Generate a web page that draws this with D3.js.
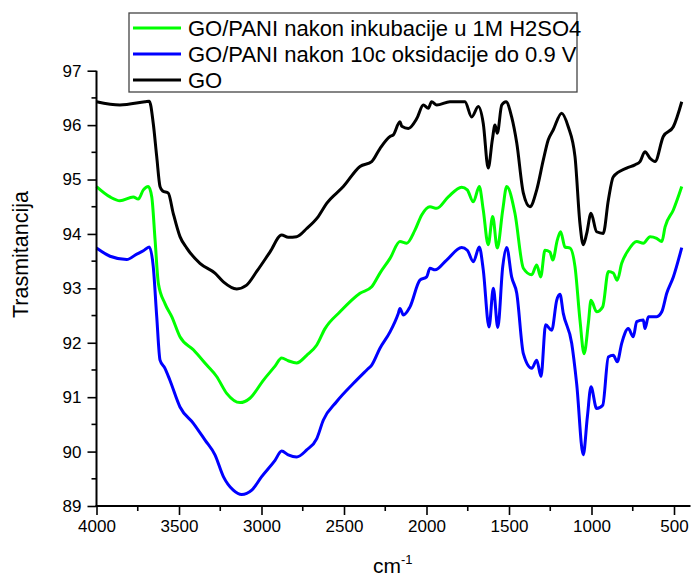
<!DOCTYPE html>
<html>
<head>
<meta charset="utf-8">
<script src="https://cdnjs.cloudflare.com/ajax/libs/d3/7.8.5/d3.min.js"></script>
<style>
  body { margin: 0; background: #fff; }
  svg { display: block; font-family: "Liberation Sans", Arial, sans-serif; }
</style>
</head>
<body>
<svg class="s1" width="691" height="576"></svg>
<script>
// GO (black)
var goWn = [4000,3858,3706,3680,3656,3635,3615,3599,3565,3535,3494,3453,3373,3282,3231,3150,3090,3029,2948,2878,2838,2787,2726,2656,2605,2504,2403,2332,2282,2221,2201,2161,2150,2110,2059,2019,1989,1969,1938,1858,1767,1726,1686,1656,1626,1601,1585,1571,1544,1518,1484,1453,1413,1373,1332,1292,1262,1232,1181,1141,1100,1070,1050,1029,1003,969,929,898,868,787,737,706,676,645,615,565,504,453];
var goT  = [96.43,96.37,96.43,96.44,96.03,95.42,94.87,94.79,94.75,94.38,93.95,93.74,93.46,93.28,93.12,92.99,93.06,93.31,93.67,93.98,93.94,93.95,94.10,94.32,94.56,94.87,95.24,95.33,95.57,95.79,95.82,96.06,95.98,95.94,96.12,96.37,96.31,96.43,96.37,96.43,96.43,96.15,96.34,96.03,95.21,95.73,96.00,95.85,96.37,96.43,96.15,95.67,94.75,94.50,94.81,95.36,95.73,95.91,96.22,95.97,95.42,94.19,93.80,94.01,94.38,94.04,94.01,94.62,95.05,95.21,95.27,95.33,95.51,95.39,95.33,95.79,95.97,96.43];

// GO/PANI nakon inkubacije (green)
var inkWn = [4000,3918,3858,3777,3747,3716,3686,3665,3645,3625,3585,3544,3494,3413,3332,3272,3211,3130,3070,2989,2918,2878,2838,2787,2726,2665,2615,2524,2403,2332,2282,2221,2161,2120,2070,2029,1979,1938,1868,1787,1753,1716,1680,1656,1626,1599,1571,1538,1514,1464,1413,1362,1332,1308,1282,1252,1235,1207,1187,1161,1130,1100,1070,1045,1019,1003,969,932,898,868,844,817,777,726,686,645,605,574,554,504,453];
var inkT  = [94.87,94.68,94.61,94.68,94.64,94.81,94.87,94.68,93.89,93.09,92.72,92.48,92.11,91.87,91.59,91.38,91.07,90.90,90.98,91.31,91.57,91.72,91.67,91.63,91.77,91.96,92.26,92.57,92.91,93.03,93.28,93.55,93.86,93.83,94.07,94.35,94.50,94.47,94.68,94.86,94.81,94.59,94.87,94.44,93.80,94.32,93.74,94.44,94.87,94.38,93.37,93.25,93.43,93.21,93.70,93.67,93.52,93.89,94.04,93.76,93.74,93.40,92.42,91.80,92.36,92.78,92.57,92.66,93.31,93.28,93.15,93.46,93.70,93.86,93.83,93.95,93.92,93.86,94.13,94.44,94.87];

// GO/PANI nakon 10c oksidacije (blue)
var oksWn = [4000,3918,3817,3756,3716,3680,3656,3635,3615,3585,3555,3494,3413,3342,3282,3231,3171,3120,3059,2999,2918,2878,2838,2787,2726,2665,2625,2544,2444,2362,2332,2282,2221,2171,2161,2140,2100,2040,1999,1979,1948,1878,1787,1753,1716,1680,1656,1621,1595,1568,1538,1514,1484,1453,1413,1362,1332,1306,1278,1241,1211,1191,1171,1120,1090,1050,1025,1003,969,932,898,868,844,817,777,747,726,686,676,655,605,574,544,504,453];
var oksT  = [93.74,93.59,93.53,93.63,93.69,93.76,93.40,92.48,91.68,91.53,91.31,90.82,90.52,90.21,89.94,89.54,89.29,89.21,89.29,89.54,89.84,90.01,89.94,89.90,90.03,90.24,90.58,90.92,91.25,91.50,91.59,91.90,92.20,92.54,92.63,92.51,92.66,93.15,93.21,93.37,93.34,93.52,93.75,93.70,93.49,93.76,93.34,92.29,93.00,92.28,93.40,93.75,93.21,92.91,91.80,91.53,91.68,91.38,92.33,92.23,92.78,92.89,92.54,91.99,91.25,89.94,90.64,91.19,90.79,90.85,91.74,91.77,91.65,91.99,92.26,92.11,92.39,92.42,92.26,92.48,92.48,92.57,92.91,93.21,93.75];

var seriesNames = ["GO/PANI nakon inkubacije u 1M H2SO4", "GO/PANI nakon 10c oksidacije do 0.9 V", "GO"];
var seriesColors = ["#00ff00", "#0000ff", "#000000"];
var xTicks = [4000, 3500, 3000, 2500, 2000, 1500, 1000, 500];
var yTicks = [89, 90, 91, 92, 93, 94, 95, 96, 97];

var svg = d3.select("svg.s1");

var x = d3.scaleLinear().domain([4000, 400]).range([96.5, 690.5]);
var y = d3.scaleLinear().domain([89, 97]).range([506, 70.7]);

function zip(wn, t) { return wn.map(function(w, i) { return {wn: w, t: t[i]}; }); }

var series = [zip(inkWn, inkT), zip(oksWn, oksT), zip(goWn, goT)];

var line = d3.line()
  .curve(d3.curveMonotoneX)
  .x(function(d) { return x(d.wn); })
  .y(function(d) { return y(d.t); });

// black on top
[1, 0, 2].forEach(function(i) {
  svg.append("path")
    .datum(series[i])
    .attr("d", line)
    .attr("fill", "none")
    .attr("stroke", seriesColors[i])
    .attr("stroke-width", 3)
    .attr("stroke-linejoin", "round");
});

// minor ticks
var yMinor = d3.range(89.5, 97, 1);
var xMinor = d3.range(3750, 400, -500);

svg.append("g").selectAll("line").data(yMinor).enter().append("line")
  .attr("x1", 91.5).attr("x2", 96.5)
  .attr("y1", function(d) { return y(d); }).attr("y2", function(d) { return y(d); })
  .attr("stroke", "#000").attr("stroke-width", 1.6);

svg.append("g").selectAll("line").data(xMinor).enter().append("line")
  .attr("y1", 506).attr("y2", 511)
  .attr("x1", function(d) { return x(d); }).attr("x2", function(d) { return x(d); })
  .attr("stroke", "#000").attr("stroke-width", 1.6);

var yAxis = svg.append("g")
  .attr("transform", "translate(96.5,0)")
  .call(d3.axisLeft(y).tickValues(yTicks).tickSize(9).tickPadding(6).tickFormat(d3.format("d")));

var xAxis = svg.append("g")
  .attr("transform", "translate(0,506)")
  .call(d3.axisBottom(x).tickValues(xTicks).tickSize(9).tickPadding(5).tickFormat(d3.format("d")));

[yAxis, xAxis].forEach(function(a) {
  a.select(".domain").attr("stroke-width", 2);
  a.selectAll(".tick line").attr("stroke-width", 1.6);
  a.selectAll(".tick text").attr("font-size", 17).attr("fill", "#000")
    .style("font-family", "'Liberation Sans', Arial, sans-serif");
});
yAxis.select(".domain").attr("d", "M0," + y(97) + "V" + (y(89) + 1));
xAxis.select(".domain").attr("d", "M" + (x(4000) - 1) + ",0H" + x(400));

// axis titles
svg.append("text")
  .attr("transform", "translate(28,254.5) rotate(-90)")
  .attr("text-anchor", "middle")
  .attr("font-size", 21.5)
  .text("Trasmitancija");

var xt = svg.append("text")
  .attr("x", 373)
  .attr("y", 573)
  .attr("font-size", 21);
xt.append("tspan").text("cm");
xt.append("tspan").attr("font-size", 13).attr("dy", -9).text("-1");

// legend
var lg = svg.append("g");
lg.append("rect")
  .attr("x", 129).attr("y", 13).attr("width", 448).attr("height", 79)
  .attr("fill", "#fff").attr("stroke", "#444").attr("stroke-width", 1.3);

var rowY = [28, 54, 80];
seriesNames.forEach(function(name, i) {
  lg.append("line")
    .attr("x1", 133).attr("x2", 181)
    .attr("y1", rowY[i]).attr("y2", rowY[i])
    .attr("stroke", seriesColors[i]).attr("stroke-width", 3);
  lg.append("text")
    .attr("x", 188).attr("y", rowY[i])
    .attr("dy", "0.36em")
    .attr("font-size", 22)
    .text(name);
});
</script>
</body>
</html>
